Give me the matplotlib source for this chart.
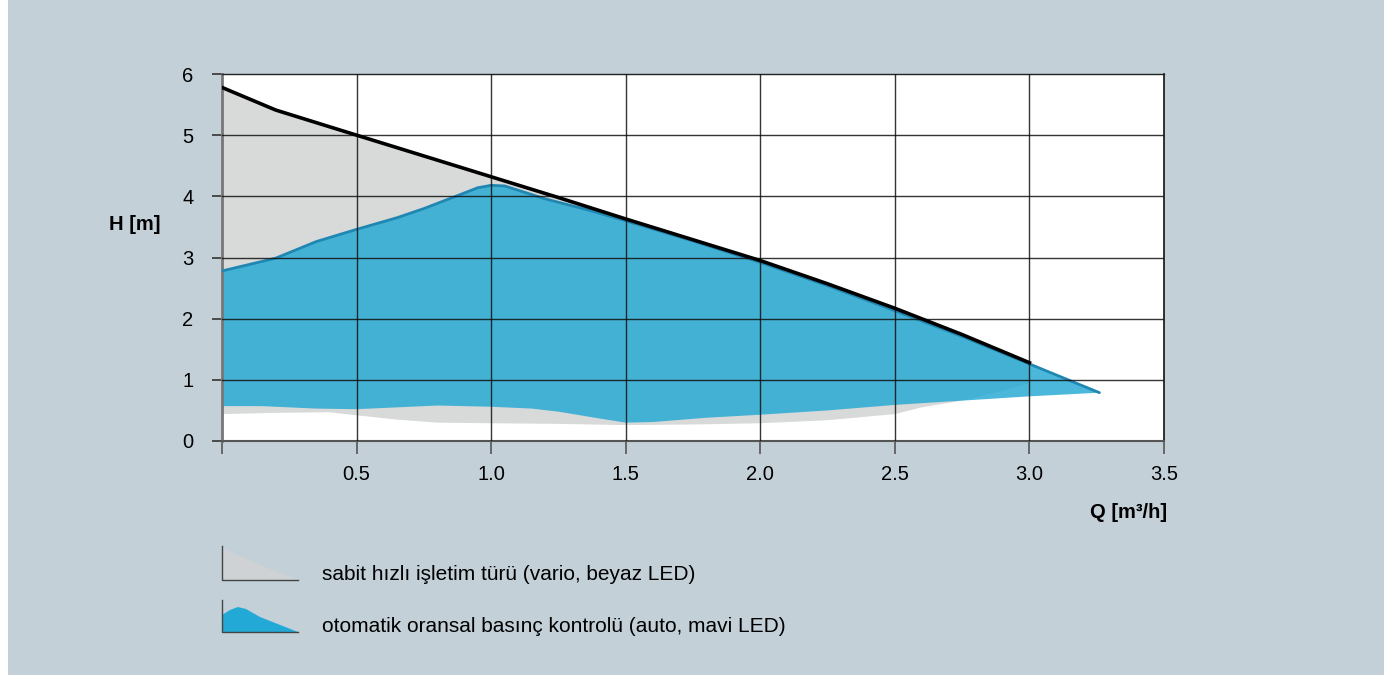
import numpy as np
import matplotlib.pyplot as plt
from matplotlib.patches import Polygon, Rectangle
from matplotlib.lines import Line2D

plt.rcParams['font.family'] = ['Liberation Sans', 'DejaVu Sans']

# constant speed curve (vario) - black line / top of grey area
q_vario = [0.0, 0.2, 0.5, 0.75, 1.0, 1.25, 1.5, 1.75, 2.0, 2.25, 2.5, 2.75, 3.0]
h_vario = [5.78, 5.41, 5.0, 4.66, 4.32, 3.98, 3.63, 3.29, 2.95, 2.57, 2.17, 1.74, 1.28]
# lower edge of the grey area
q_vario_low = [0.0, 0.2, 0.4, 0.5, 0.65, 0.8, 1.0, 1.25, 1.5, 1.75, 2.0, 2.25, 2.5, 2.6, 2.75, 2.9, 3.0]
h_vario_low = [0.44, 0.46, 0.47, 0.42, 0.35, 0.30, 0.29, 0.28, 0.26, 0.27, 0.29, 0.34, 0.44, 0.55, 0.66, 0.82, 0.95]

# proportional pressure (auto) - top and bottom of blue area
q_auto = [0.0, 0.2, 0.35, 0.5, 0.65, 0.75, 0.88, 0.95, 1.0, 1.05, 1.1, 1.2, 1.35, 1.5, 1.75, 2.0, 2.25, 2.5, 2.75, 3.0, 3.26]
h_auto = [2.78, 2.99, 3.26, 3.46, 3.65, 3.8, 4.02, 4.14, 4.18, 4.17, 4.1, 3.96, 3.79, 3.6, 3.27, 2.92, 2.54, 2.13, 1.71, 1.26, 0.79]
q_auto_low = [0.0, 0.15, 0.35, 0.5, 0.65, 0.8, 1.0, 1.15, 1.25, 1.4, 1.5, 1.6, 1.8, 2.0, 2.25, 2.5, 2.75, 3.0, 3.26]
h_auto_low = [0.57, 0.57, 0.53, 0.52, 0.55, 0.58, 0.56, 0.53, 0.48, 0.37, 0.30, 0.31, 0.38, 0.43, 0.5, 0.59, 0.66, 0.73, 0.79]

x_ticks = [0.0, 0.5, 1.0, 1.5, 2.0, 2.5, 3.0, 3.5]
x_labels = ['', '0.5', '1.0', '1.5', '2.0', '2.5', '3.0', '3.5']
y_ticks = [0, 1, 2, 3, 4, 5, 6]

legend_labels = ['sabit hızlı işletim türü (vario, beyaz LED)',
                 'otomatik oransal basınç kontrolü (auto, mavi LED)']

W, H = 1391, 675
fig = plt.figure(figsize=(W / 100, H / 100), dpi=100, facecolor='white')
fig.patches.append(Rectangle((8 / W, 0), (1384 - 8) / W, 1, transform=fig.transFigure,
                             facecolor='#c3d0d8', edgecolor='none', zorder=-10))

def fx(px):
    return px / W

def fy(py):
    return 1 - py / H

grey = '#d8d9d9'
blue = '#1ea7d3'
fs = 14.5

ax = fig.add_axes([fx(222), fy(441), (1164 - 222) / W, (441 - 74) / H])
ax.set_facecolor('white')
ax.set_xlim(0, 3.5)
ax.set_ylim(0, 6)

ax.fill(np.concatenate([q_vario, q_vario_low[::-1]]),
        np.concatenate([h_vario, h_vario_low[::-1]]),
        color=grey, lw=0, zorder=1)
ax.fill(np.concatenate([q_auto, q_auto_low[::-1]]),
        np.concatenate([h_auto, h_auto_low[::-1]]),
        color=blue, alpha=0.8, lw=0, zorder=2)
ax.plot(q_auto, h_auto, color='#2087b3', lw=2, zorder=3, solid_capstyle='round')

for x in x_ticks[1:-1]:
    ax.axvline(x, color='#111111', lw=1.0, alpha=0.85, zorder=4)
for y in y_ticks[1:-1]:
    ax.axhline(y, color='#111111', lw=1.0, alpha=0.85, zorder=4)

ax.plot(q_vario, h_vario, color='black', lw=2.6, zorder=5)

ax.set_xticks(x_ticks)
ax.set_xticklabels(x_labels)
ax.set_yticks(y_ticks)
ax.tick_params(axis='x', length=9, width=1.2, color='#555555', pad=8, labelsize=fs)
ax.tick_params(axis='y', length=7.5, width=1.2, color='#333333', pad=13, labelsize=fs)

ax.spines['left'].set_color('#777777')
ax.spines['left'].set_linewidth(2)
ax.spines['bottom'].set_color('#555555')
ax.spines['bottom'].set_linewidth(1.5)
ax.spines['top'].set_color('#222222')
ax.spines['top'].set_linewidth(1)
ax.spines['right'].set_color('#111111')
ax.spines['right'].set_linewidth(1.2)

fig.text(fx(135), fy(225), 'H [m]', fontsize=fs, fontweight='bold', ha='center', va='center')
fig.text(fx(1167), fy(512), 'Q [m³/h]', fontsize=fs, fontweight='bold', ha='right', va='center')

# legend icons
fig.patches.append(Polygon([(fx(222), fy(548)), (fx(260), fy(565)), (fx(298), fy(580)), (fx(222), fy(580))],
                           closed=True, transform=fig.transFigure, facecolor='#cfd2d4', edgecolor='none'))
fig.patches.append(Polygon([(fx(222), fy(615)), (fx(230), fy(610)), (fx(238), fy(607)), (fx(246), fy(609)),
                            (fx(260), fy(617)), (fx(298), fy(632)), (fx(222), fy(632))],
                           closed=True, transform=fig.transFigure, facecolor='#22a9d6', edgecolor='none'))
for top, bottom in [(546, 580), (600, 632)]:
    fig.lines.append(Line2D([fx(222), fx(222), fx(298)], [fy(top), fy(bottom), fy(bottom)],
                            transform=fig.transFigure, color='#444444', lw=1))

fig.text(fx(322), fy(575), legend_labels[0], fontsize=15, va='center')
fig.text(fx(322), fy(627), legend_labels[1], fontsize=15, va='center')

fig.savefig('out.png', dpi=100, facecolor=fig.get_facecolor())
